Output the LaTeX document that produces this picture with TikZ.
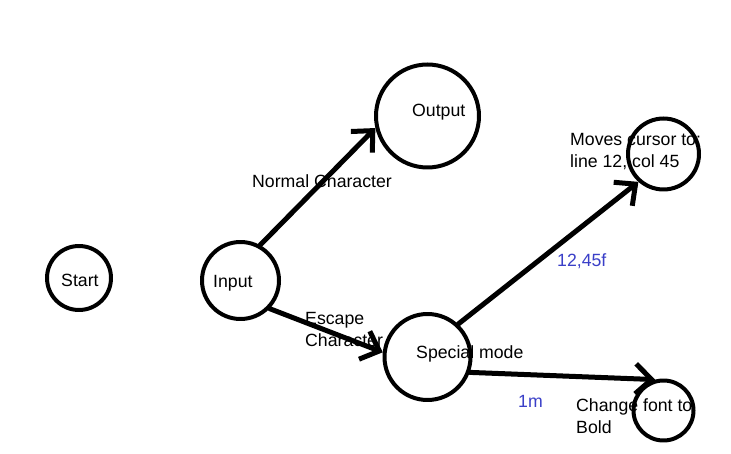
\documentclass[tikz,border=0pt]{standalone}
\usepackage{fontspec}
\setmainfont{Liberation Sans}
\usepackage{xcolor}
\usetikzlibrary{arrows.meta}
\definecolor{fsmink}{HTML}{000000}
\definecolor{fsmcode}{HTML}{3A3FC8}

\begin{document}
\begin{tikzpicture}[x=1pt,y=-1pt,line cap=round,line join=round,
  font=\fontsize{17.7}{21}\selectfont,text=fsmink,
  state/.style={circle,draw=fsmink,line width=4pt,inner sep=0pt},
  go/.style={-{Straight Barb[length=16pt,width=30pt]},draw=fsmink,line width=5pt},
  txt/.style={anchor=base west,inner sep=0pt},
  code/.style={txt,text=fsmcode}]
\path[use as bounding box] (0,0) rectangle (731,454);
\fill[white] (0,0) rectangle (731,454);

% states
\node[state,minimum size=64pt] (start) at (79,278) {};
\node[state,minimum size=77pt] (input) at (240.5,280.5) {};
\node[state,minimum size=103pt] (output) at (427.5,116) {};
\node[state,minimum size=86pt] (special) at (427.5,357) {};
\node[state,minimum size=71pt] (moves) at (663.5,154) {};
\node[state,minimum size=60pt] (change) at (663.5,410.5) {};

% transitions
\draw[go] (input.61) -- (output.193);
\draw[go] (input.-44) -- (special.174);
\draw[go] (special.47) -- (moves.228);
\draw[go] (special.-20) -- (change.105);

% texts
\node[txt] (starttxt) at (61,287) {Start};
\node[txt] (inputtxt) at (213,288) {Input};
\node[txt] (outputtxt) at (412,117) {Output};
\node[txt] (specialtxt) at (416,359) {Special mode};
\node[txt] (movestxt) at (570,146) {Moves cursor to:};
\node[txt] (movestxtb) at (570,168) {line 12, col 45};
\node[txt] (changetxt) at (576,411) {Change font to};
\node[txt] (changetxtb) at (576,433) {Bold};
\node[txt] (normal) at (252,188) {Normal Character};
\node[txt] (escape) at (305,324) {Escape};
\node[txt] (escapeb) at (305,347) {Character};
\node[code] (movecode) at (557,267) {12,45f};
\node[code] (boldcode) at (518,407) {1m};
\end{tikzpicture}
\end{document}
